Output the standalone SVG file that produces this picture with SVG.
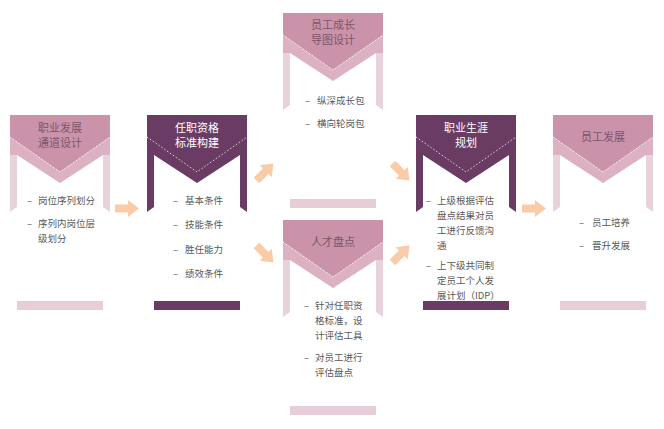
<svg xmlns="http://www.w3.org/2000/svg" xmlns:xlink="http://www.w3.org/1999/xlink" width="664" height="429" viewBox="0 0 664 429">
<style>
.title{font-family:"Noto Sans CJK SC","Noto Sans",sans-serif;font-size:11px;text-anchor:middle}
.tp{fill:#7a5569}
.tw{fill:#ffffff}
.body{font-family:"Noto Sans CJK SC","Noto Sans",sans-serif;font-size:9.5px;fill:#595959}
.dot{fill:none;stroke:#ffffff;stroke-width:0.8;stroke-dasharray:1.5 2}
.arrow{fill:#fbcba8}
</style>
<defs>
<g id="pinkShape">
<polygon points="0,0 100,0 100,22 50,57 0,22" fill="#ca93aa"/>
<polygon points="0,22 50,57 100,22 100,40 93,40 50,68 7,40 0,40" fill="#dcb2c3"/>
<polygon points="0,40 7,40 7,92 0,97" fill="#e8d3dc"/>
<polygon points="93,40 100,40 100,97 93,92" fill="#e8d3dc"/>
<polyline class="dot" points="0,22 50,57 100,22"/>
</g>
<g id="purpleShape">
<polygon points="0,0 100,0 100,40 93,40 50,68 7,40 0,40" fill="#6a3b63"/>
<polygon points="0,40 7,40 7,92 0,97" fill="#6a3b63"/>
<polygon points="93,40 100,40 100,97 93,92" fill="#6a3b63"/>
<polyline class="dot" points="0,22 50,57 100,22"/>
</g>
<path id="arr" class="arrow" d="M-12,-4 L1,-4 L1,-8.5 L12,0 L1,8.5 L1,4 L-12,4 Z"/>
</defs>

<g id="connectors">
<use xlink:href="#arr" href="#arr" transform="translate(127,208.5)"/>
<use xlink:href="#arr" href="#arr" transform="translate(265,172) rotate(-45)"/>
<use xlink:href="#arr" href="#arr" transform="translate(265,254) rotate(45)"/>
<use xlink:href="#arr" href="#arr" transform="translate(401,172) rotate(45)"/>
<use xlink:href="#arr" href="#arr" transform="translate(401,254) rotate(-45)"/>
<use xlink:href="#arr" href="#arr" transform="translate(534,208.5)"/>
</g>

<g id="card1" transform="translate(10,115)">
<use xlink:href="#pinkShape" href="#pinkShape"/>
<text class="title tp" x="50" y="17">职业发展</text>
<text class="title tp" x="50" y="32">通道设计</text>
<text class="body" x="17" y="88.5">–</text>
<text class="body" x="28" y="88.5">岗位序列划分</text>
<text class="body" x="17" y="111.5">–</text>
<text class="body" x="28" y="111.5">序列内岗位层</text>
<text class="body" x="28" y="126.5">级划分</text>
<rect x="7" y="186" width="86" height="9" fill="#e6cdd7"/>
</g>

<g id="card2" transform="translate(147,115)">
<use xlink:href="#purpleShape" href="#purpleShape"/>
<text class="title tw" x="50" y="17">任职资格</text>
<text class="title tw" x="50" y="32">标准构建</text>
<text class="body" x="26" y="88.5">–</text>
<text class="body" x="38" y="88.5">基本条件</text>
<text class="body" x="26" y="113">–</text>
<text class="body" x="38" y="113">技能条件</text>
<text class="body" x="26" y="137.5">–</text>
<text class="body" x="38" y="137.5">胜任能力</text>
<text class="body" x="26" y="161.5">–</text>
<text class="body" x="38" y="161.5">绩效条件</text>
<rect x="7" y="186" width="86" height="9" fill="#6a3b63"/>
</g>

<g id="card3" transform="translate(283,13)">
<use xlink:href="#pinkShape" href="#pinkShape"/>
<text class="title tp" x="50" y="16">员工成长</text>
<text class="title tp" x="50" y="31">导图设计</text>
<text class="body" x="22" y="90.5">–</text>
<text class="body" x="34" y="90.5">纵深成长包</text>
<text class="body" x="22" y="113.5">–</text>
<text class="body" x="34" y="113.5">横向轮岗包</text>
<rect x="7" y="186" width="86" height="9" fill="#e6cdd7"/>
</g>

<g id="card4" transform="translate(283,220)">
<use xlink:href="#pinkShape" href="#pinkShape"/>
<text class="title tp" x="50" y="26">人才盘点</text>
<text class="body" x="21" y="88.5">–</text>
<text class="body" x="32" y="88.5">针对任职资</text>
<text class="body" x="32" y="103.5">格标准，设</text>
<text class="body" x="32" y="118.5">计评估工具</text>
<text class="body" x="21" y="140.5">–</text>
<text class="body" x="32" y="140.5">对员工进行</text>
<text class="body" x="32" y="155.5">评估盘点</text>
<rect x="7" y="186" width="86" height="9" fill="#e6cdd7"/>
</g>

<g id="card5" transform="translate(416,115)">
<use xlink:href="#purpleShape" href="#purpleShape"/>
<text class="title tw" x="50" y="17">职业生涯</text>
<text class="title tw" x="50" y="32">规划</text>
<text class="body" x="10" y="88.5">–</text>
<text class="body" x="21" y="88.5">上级根据评估</text>
<text class="body" x="21" y="103.5">盘点结果对员</text>
<text class="body" x="21" y="118.5">工进行反馈沟</text>
<text class="body" x="21" y="133.5">通</text>
<text class="body" x="10" y="153.5">–</text>
<text class="body" x="21" y="153.5">上下级共同制</text>
<text class="body" x="21" y="168.5">定员工个人发</text>
<text class="body" x="21" y="183.5">展计划（IDP）</text>
<rect x="7" y="186" width="86" height="9" fill="#6a3b63"/>
</g>

<g id="card6" transform="translate(553,115)">
<use xlink:href="#pinkShape" href="#pinkShape"/>
<text class="title tp" x="50" y="26">员工发展</text>
<text class="body" x="26" y="110.5">–</text>
<text class="body" x="39" y="110.5">员工培养</text>
<text class="body" x="26" y="133.5">–</text>
<text class="body" x="39" y="133.5">晋升发展</text>
<rect x="7" y="186" width="86" height="9" fill="#e6cdd7"/>
</g>
</svg>
